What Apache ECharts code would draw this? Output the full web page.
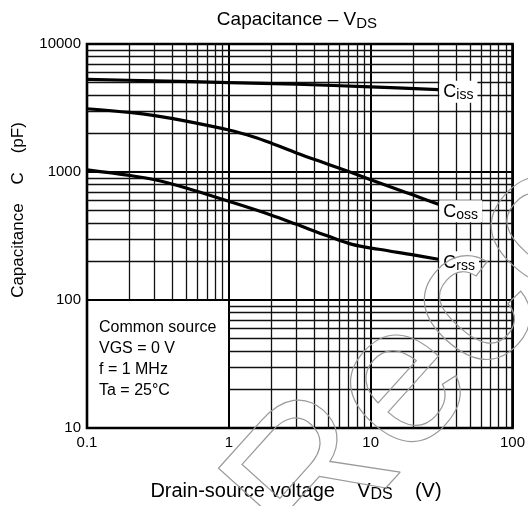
<!DOCTYPE html>
<html>
<head>
<meta charset="utf-8">
<style>
  html, body { margin: 0; padding: 0; background: #fff; }
  #chart { width: 528px; height: 506px; }
</style>
<script src="https://cdn.jsdelivr.net/npm/echarts@6/dist/echarts.min.js"></script>
</head>
<body>
<div id="chart"></div>
<script>
// Capacitance vs drain-source voltage (log-log)
const vdsCiss = [0.1, 0.3, 1, 3, 10, 30];
const ciss    = [5300, 5150, 5000, 4850, 4620, 4400];

const vdsCoss = [0.1, 0.2, 0.3, 0.5, 1, 1.5, 2, 3, 5, 7.4, 10, 15, 20, 30];
const coss    = [3120, 2920, 2760, 2500, 2130, 1880, 1680, 1410, 1150, 985, 870, 740, 660, 560];

const vdsCrss = [0.1, 0.2, 0.3, 0.5, 1, 2, 3, 5, 7.4, 11.4, 20, 30];
const crss    = [1040, 940, 870, 750, 590, 460, 390, 316, 272, 249, 225, 208];

const xTickValues = [0.1, 1, 10, 100];
const xTickLabels = ['0.1', '1', '10', '100'];
const yTickValues = [10, 100, 1000, 10000];
const yTickLabels = ['10', '100', '1000', '10000'];

const conditions = ['Common source', 'VGS = 0 V', 'f = 1 MHz', 'Ta = 25°C'];

const FONT = '"Liberation Sans", Arial, Helvetica, sans-serif';

function tickLabel(values, labels) {
  return function (v) {
    for (let i = 0; i < values.length; i++) {
      if (Math.abs(Math.log10(v) - Math.log10(values[i])) < 1e-6) return labels[i];
    }
    return '';
  };
}

// minor grid lines (2..9 in every decade); the lower-left decade is kept clear for the notes box
const gridLines = [];
const xDecades = [0.1, 1, 10];
const yDecades = [10, 100, 1000];
xDecades.forEach(function (d) {
  for (let k = 2; k <= 9; k++) {
    const yStart = d < 1 ? 100 : 10;
    gridLines.push([{ coord: [d * k, yStart] }, { coord: [d * k, 10000] }]);
  }
});
yDecades.forEach(function (d) {
  for (let k = 2; k <= 9; k++) {
    const xStart = d < 100 ? 1 : 0.1;
    gridLines.push([{ coord: [xStart, d * k] }, { coord: [100, d * k] }]);
  }
});

function pairs(xs, ys) {
  return xs.map(function (x, i) { return [x, ys[i]]; });
}

function curve(name, xs, ys, sub, dy) {
  return {
    name: name,
    type: 'line',
    z: 5,
    smooth: 0.35,
    symbol: 'none',
    lineStyle: { color: '#000', width: 3.2 },
    emphasis: { disabled: true },
    silent: true,
    data: pairs(xs, ys),
    endLabel: {
      show: true,
      distance: 1,
      offset: [0, dy],
      formatter: '{c|C}{s|' + sub + '}',
      backgroundColor: '#fff',
      padding: [1, 4, 0, 4],
      rich: {
        c: { fontFamily: FONT, fontSize: 18, color: '#000', lineHeight: 21 },
        s: { fontFamily: FONT, fontSize: 14, color: '#000', lineHeight: 18, verticalAlign: 'bottom' }
      }
    }
  };
}

const chart = echarts.init(document.getElementById('chart'), null, { renderer: 'canvas' });

chart.setOption({
  animation: false,
  backgroundColor: '#fff',
  grid: {
    left: 87, right: 14, top: 44, bottom: 78,
    show: true, borderColor: '#000', borderWidth: 2.6, backgroundColor: 'transparent'
  },
  xAxis: {
    type: 'log', logBase: 10, min: 0.1, max: 100,
    axisLine: { show: false },
    axisTick: { show: false },
    axisLabel: {
      formatter: tickLabel(xTickValues, xTickLabels),
      color: '#000', fontFamily: FONT, fontSize: 15, margin: 7
    },
    splitLine: { show: true, lineStyle: { color: '#000', width: 2 } }
  },
  yAxis: {
    type: 'log', logBase: 10, min: 10, max: 10000,
    axisLine: { show: false },
    axisTick: { show: false },
    axisLabel: {
      formatter: tickLabel(yTickValues, yTickLabels),
      color: '#000', fontFamily: FONT, fontSize: 15, margin: 6
    },
    splitLine: { show: true, lineStyle: { color: '#000', width: 2 } }
  },
  graphic: [
    {
      type: 'text', x: 297, y: 20, z: 10,
      style: {
        text: '{a|Capacitance – V}{b|DS}',
        align: 'center', verticalAlign: 'middle',
        rich: {
          a: { fontFamily: FONT, fontSize: 19, color: '#000', lineHeight: 23 },
          b: { fontFamily: FONT, fontSize: 15, color: '#000', lineHeight: 17, verticalAlign: 'bottom' }
        }
      }
    },
    {
      type: 'text', x: 296, y: 491, z: 10,
      style: {
        text: '{a|Drain-source voltage    V}{b|DS}{a|    (V)}',
        align: 'center', verticalAlign: 'middle',
        rich: {
          a: { fontFamily: FONT, fontSize: 20, color: '#000', lineHeight: 24 },
          b: { fontFamily: FONT, fontSize: 16, color: '#000', lineHeight: 18, verticalAlign: 'bottom' }
        }
      }
    },
    {
      type: 'text', x: 18, y: 210, rotation: Math.PI / 2, z: 10,
      style: {
        text: 'Capacitance    C    (pF)',
        align: 'center', verticalAlign: 'middle',
        fontFamily: FONT, fontSize: 17, fill: '#000'
      }
    },
    {
      type: 'text', x: 99, y: 317, z: 10,
      style: {
        text: conditions.join('\n'),
        fontFamily: FONT, fontSize: 16, fill: '#000', lineHeight: 21
      }
    },
    {
      // outlined watermark lettering across the lower right
      type: 'text', x: 425, y: 362, z: 20, silent: true,
      rotation: 48 * Math.PI / 180,
      style: {
        text: 'Reco',
        align: 'center', verticalAlign: 'middle',
        fontFamily: FONT, fontSize: 200,
        fill: 'transparent', stroke: '#9a9a9a', lineWidth: 1.2
      }
    }
  ],
  series: [
    {
      name: 'grid',
      type: 'line',
      z: 1,
      silent: true,
      symbol: 'none',
      lineStyle: { opacity: 0 },
      data: [[0.1, 10]],
      markLine: {
        silent: true,
        symbol: 'none',
        animation: false,
        label: { show: false },
        lineStyle: { color: '#111', width: 1.3, type: 'solid' },
        emphasis: { disabled: true },
        data: gridLines
      }
    },
    curve('Ciss', vdsCiss, ciss, 'iss', 2),
    curve('Coss', vdsCoss, coss, 'oss', 7),
    curve('Crss', vdsCrss, crss, 'rss', 3)
  ]
});
</script>
</body>
</html>
